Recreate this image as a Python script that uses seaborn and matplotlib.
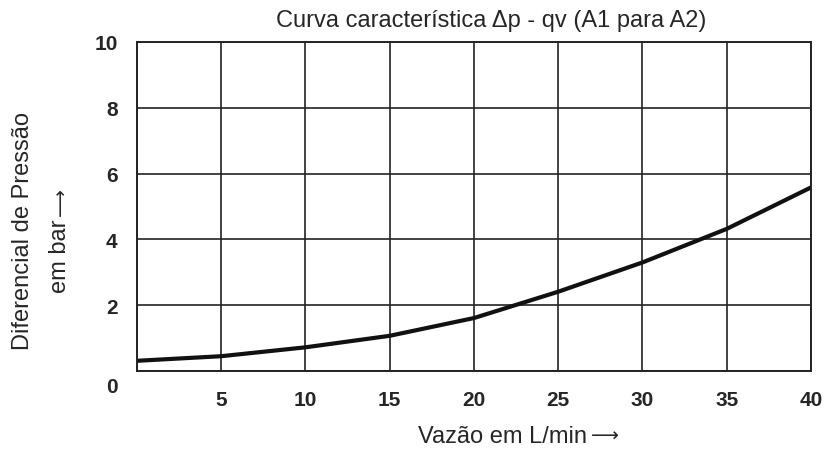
import matplotlib
matplotlib.use("Agg")
import matplotlib.pyplot as plt
import matplotlib.transforms as mtransforms
import seaborn as sns
import pandas as pd

flow = [0, 5, 10, 15, 20, 25, 30, 35, 40]
dp = [0.31, 0.45, 0.72, 1.07, 1.61, 2.41, 3.30, 4.32, 5.58]
xticks = [5, 10, 15, 20, 25, 30, 35, 40]
yticks = [0, 2, 4, 6, 8, 10]

sns.set_style("white")
plt.rcParams['font.family'] = ['Liberation Sans', 'DejaVu Sans']

df = pd.DataFrame({"flow": flow, "dp": dp})

fig = plt.figure(figsize=(8.29, 4.52), dpi=100)
ax = fig.add_axes([137/829, 1 - 372/452, (811-137)/829, (372-43)/452])

sns.lineplot(data=df, x="flow", y="dp", ax=ax, color="#111111", linewidth=3.0)

ax.set_xlim(0, 40)
ax.set_ylim(0, 10)
ax.set_xticks([0] + xticks)
ax.set_xticklabels([""] + [str(t) for t in xticks], fontsize=15, fontweight="bold")
ax.set_yticks(yticks)
ax.set_yticklabels([str(t) for t in yticks], fontsize=15, fontweight="bold")
ax.tick_params(axis="x", length=0, pad=14)
ax.tick_params(axis="y", length=0, pad=14)

# shift the "0" label slightly down
lbl0 = ax.get_yticklabels()[0]
lbl0.set_transform(lbl0.get_transform() + mtransforms.ScaledTranslation(0, -14/100, fig.dpi_scale_trans))

ax.grid(True, color="#222222", linewidth=1.2)
for s in ax.spines.values():
    s.set_color("#222222")
    s.set_linewidth(1.4)

ax.set_xlabel("")
ax.set_ylabel("")

fig.text(491/829, 1 - 21/452, "Curva característica Δp - qv (A1 para A2)",
         ha="center", va="center", fontsize=17)

renderer = fig.canvas.get_renderer()

# x label with a separate thin arrow
xl = fig.text(418/829, 1 - 437/452, "Vazão em L/min", ha="left", va="center", fontsize=17)
bb = xl.get_window_extent(renderer)
fig.text((bb.x1 + 4)/829, 1 - 436/452, "\u27f6", ha="left", va="center",
         fontsize=14, family=["DejaVu Sans"])

fig.text(23/829, 1 - 231/452, "Diferencial de Pressão", rotation=90,
         ha="center", va="center", fontsize=17)
yl = fig.text(60/829, 1 - 293/452, "em bar", rotation=90,
              ha="center", va="bottom", fontsize=17)
bb2 = yl.get_window_extent(renderer)
fig.text(61/829, (bb2.y1 + 4)/452, "\u27f6", rotation=90, ha="center", va="bottom",
         fontsize=14, family=["DejaVu Sans"])

fig.savefig("out.png", dpi=100)
